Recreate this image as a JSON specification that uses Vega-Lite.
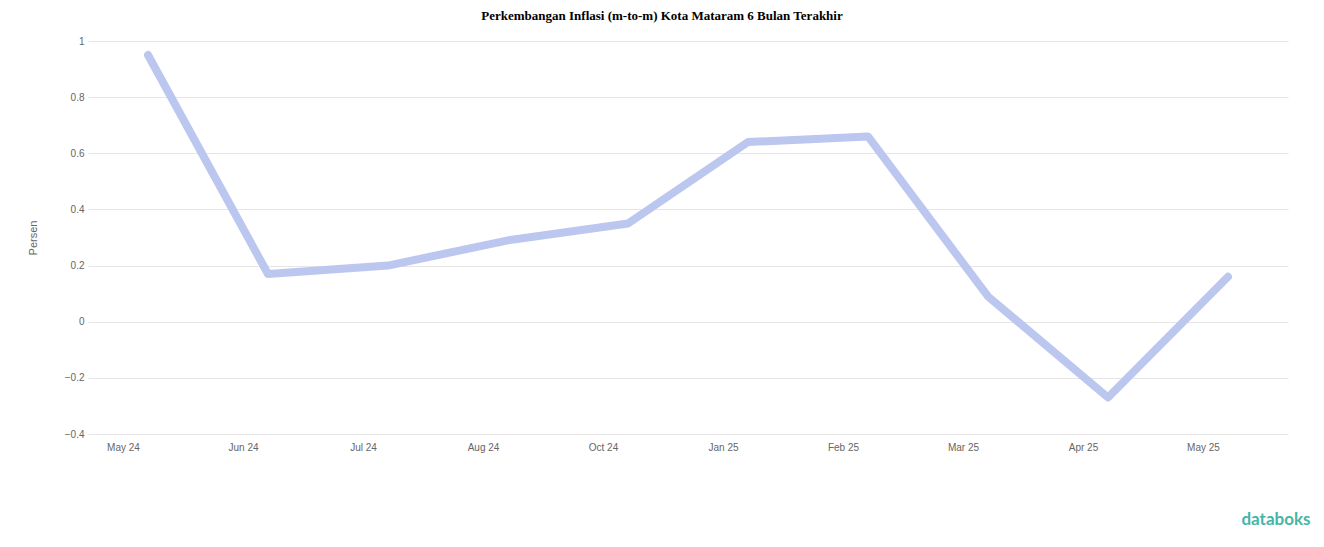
{
  "$schema": "https://vega.github.io/schema/vega-lite/v6.json",
  "autosize": "none",
  "width": 1200,
  "height": 393,
  "padding": {"left": 88, "top": 41, "right": 36, "bottom": 113},
  "background": "white",
  "title": {
    "text": "Perkembangan Inflasi (m-to-m) Kota Mataram 6 Bulan Terakhir",
    "font": "Liberation Serif",
    "fontSize": 13,
    "fontWeight": "bold",
    "color": "#000000",
    "anchor": "middle",
    "frame": "group",
    "dx": -26,
    "offset": 13
  },
  "data": {
    "values": [
      {"bulan": "May 24", "inflasi": 0.95},
      {"bulan": "Jun 24", "inflasi": 0.17},
      {"bulan": "Jul 24", "inflasi": 0.2},
      {"bulan": "Aug 24", "inflasi": 0.29},
      {"bulan": "Oct 24", "inflasi": 0.35},
      {"bulan": "Jan 25", "inflasi": 0.64},
      {"bulan": "Feb 25", "inflasi": 0.66},
      {"bulan": "Mar 25", "inflasi": 0.09},
      {"bulan": "Apr 25", "inflasi": -0.27},
      {"bulan": "May 25", "inflasi": 0.16}
    ]
  },
  "mark": {"type": "line", "color": "#bcc7f0", "strokeWidth": 8, "strokeCap": "round", "strokeJoin": "round"},
  "encoding": {
    "x": {
      "field": "bulan",
      "type": "ordinal",
      "sort": null,
      "scale": {"type": "point", "padding": 0.5},
      "axis": {
        "title": "databoks",
        "titleFont": "Lato",
        "titleFontSize": 17,
        "titleFontWeight": "bold",
        "titleColor": "#45b5a9",
        "titleAnchor": "end",
        "titleAlign": "right",
        "titleX": 1222,
        "titleY": 77,
        "labelAngle": 0,
        "labelOffset": -25,
        "labelPadding": 8,
        "labelFont": "Liberation Sans",
        "labelFontSize": 10,
        "labelColor": "#666666",
        "ticks": false,
        "domain": false,
        "grid": false
      }
    },
    "y": {
      "field": "inflasi",
      "type": "quantitative",
      "scale": {"domain": [-0.4, 1], "nice": false, "zero": false},
      "axis": {
        "title": "Persen",
        "titleFont": "Liberation Sans",
        "titleFontSize": 11,
        "titleFontWeight": "normal",
        "titleColor": "#666666",
        "titlePadding": 26,
        "values": [-0.4, -0.2, 0, 0.2, 0.4, 0.6, 0.8, 1],
        "format": ".1~f",
        "labelFont": "Liberation Sans",
        "labelFontSize": 10,
        "labelColor": "#666666",
        "labelPadding": 4,
        "ticks": false,
        "domain": false,
        "grid": true,
        "gridColor": "#e6e6e6",
        "gridWidth": 1
      }
    }
  },
  "config": {"view": {"stroke": null}}
}
